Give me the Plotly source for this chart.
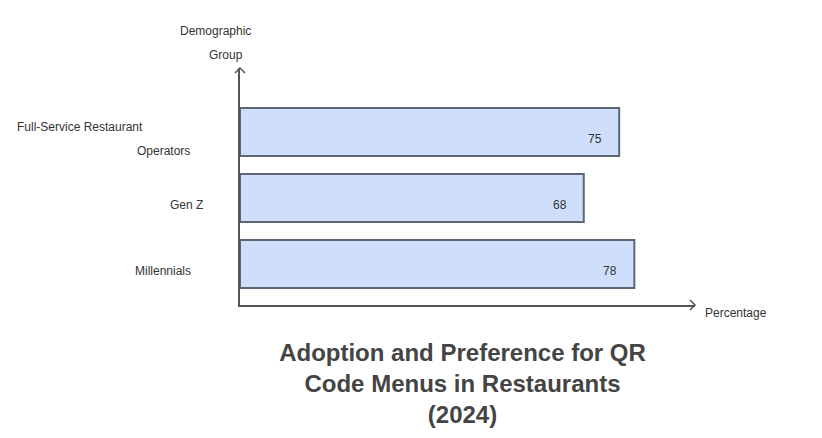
import plotly.graph_objects as go

categories = ["Millennials", "Gen Z", "Full-Service Restaurant<br>Operators"]
values = [78, 68, 75]
x_title = "Percentage"
y_title = "Demographic<br>Group"
title = "Adoption and Preference for QR<br>Code Menus in Restaurants<br>(2024)"

W, H = 822, 438
L, R, T, B = 240, 127, 68, 133
pw, ph = W - L - R, H - T - B

fig = go.Figure(go.Bar(
    x=values, y=list(range(len(categories))), orientation="h", width=0.727,
    marker=dict(color="#cfdffb", line=dict(color="#5f6673", width=2)),
    hoverinfo="skip",
))

axis_color = "#555555"
fig.update_layout(
    width=W, height=H, margin=dict(l=L, r=R, t=T, b=B),
    plot_bgcolor="white", paper_bgcolor="white",
    font=dict(family="Liberation Sans, Arial, sans-serif", size=12, color="#333333"),
    showlegend=False,
    xaxis=dict(range=[0, 90], showline=True, linecolor=axis_color, linewidth=1.5,
               showgrid=False, zeroline=False, showticklabels=False, ticks=""),
    yaxis=dict(range=[-0.62, 2.97], showline=True, linecolor=axis_color, linewidth=1.5,
               showgrid=False, zeroline=False, showticklabels=False, ticks=""),
    title=dict(text=title, x=(L + pw / 2 - 5) / W, xanchor="center", y=1 - 361 / H, yanchor="top",
               font=dict(size=24, color="#444444", family="Liberation Sans, Arial, sans-serif", weight="bold")),
)

annotations = []
# value labels inside bars
for i, v in enumerate(values):
    annotations.append(dict(x=v, y=i, xref="x", yref="y", text=str(v), showarrow=False,
                            xanchor="right", xshift=-15, yshift=-7, font=dict(size=12, color="#333333")))

# category labels (right edges in pixels relative to axis line)
label_lines = [[(categories[0], -47)], [(categories[1], -35)],
               [(categories[2].split("<br>")[0], -95, 12), (categories[2].split("<br>")[1], -48, -12)]]
for i, lines in enumerate(label_lines):
    for item in lines:
        txt, xs = item[0], item[1]
        ys = item[2] if len(item) > 2 else 0
        annotations.append(dict(x=0, y=i, xref="paper", yref="y", text=txt, showarrow=False,
                                xanchor="right", xshift=xs, yshift=ys - 7,
                                font=dict(size=12, color="#333333")))

# axis titles
annotations.append(dict(x=0, y=1, xref="paper", yref="paper", text="Demographic", showarrow=False,
                        xanchor="center", yanchor="middle", xshift=-25, yshift=37,
                        font=dict(size=12, color="#333333")))
annotations.append(dict(x=0, y=1, xref="paper", yref="paper", text="Group", showarrow=False,
                        xanchor="center", yanchor="middle", xshift=-14, yshift=13,
                        font=dict(size=12, color="#333333")))
annotations.append(dict(x=1, y=0, xref="paper", yref="paper", text=x_title, showarrow=False,
                        xanchor="left", yanchor="middle", xshift=8, yshift=-8,
                        font=dict(size=12, color="#333333")))
fig.update_layout(annotations=annotations)

# arrow heads at axis ends
a = 5
dxp, dyp = a / pw, a / ph
fig.add_shape(type="path", xref="paper", yref="paper",
              path=f"M {1 - dxp} {dyp} L 1 0 L {1 - dxp} {-dyp}",
              line=dict(color=axis_color, width=1.5))
fig.add_shape(type="path", xref="paper", yref="paper",
              path=f"M {-dxp} {1 - dyp} L 0 1 L {dxp} {1 - dyp}",
              line=dict(color=axis_color, width=1.5))

fig.write_html("out.html")
